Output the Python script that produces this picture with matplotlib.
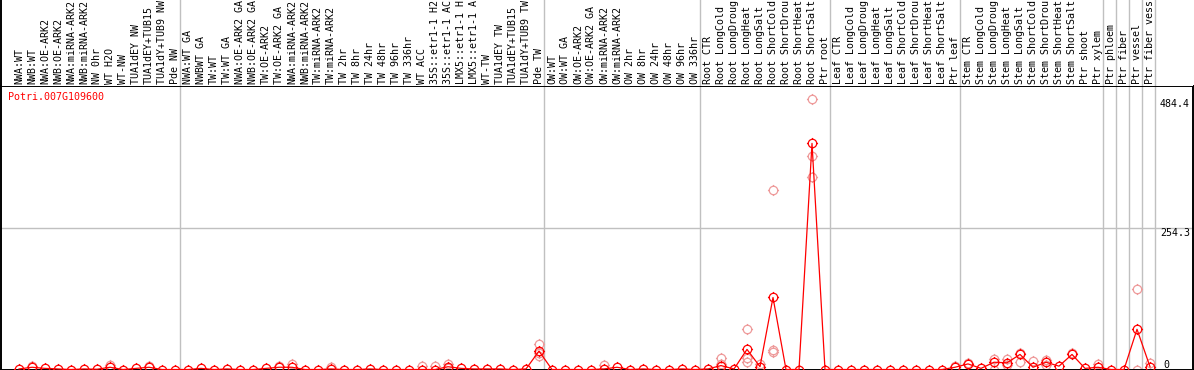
import matplotlib
matplotlib.use('Agg')
import matplotlib.pyplot as plt
from matplotlib.path import Path
import numpy as np

# ---------------- data ----------------
gene = "Potri.007G109600"

labels = [
    "NWA:WT", "NWB:WT", "NWA:OE-ARK2", "NWB:OE-ARK2", "NWA:miRNA-ARK2", "NWB:miRNA-ARK2",
    "NW 0hr", "WT H2O", "WT-NW", "TUA1dEY NW", "TUA1dEY+TUB15", "TUA1dY+TUB9 NW", "Pde NW",
    "NWA:WT GA", "NWBWT GA", "TW:WT", "TW:WT GA", "NWA:OE-ARK2 GA", "NWB:OE-ARK2 GA",
    "TW:OE-ARK2", "TW:OE-ARK2 GA", "NWA:miRNA-ARK2", "NWB:miRNA-ARK2", "TW:miRNA-ARK2",
    "TW:miRNA-ARK2", "TW 2hr", "TW 8hr", "TW 24hr", "TW 48hr", "TW 96hr", "TW 336hr",
    "WT ACC", "35S::etr1-1 H2", "35S::etr1-1 AC", "LMX5::etr1-1 H", "LMX5::etr1-1 A",
    "WT-TW", "TUA1dEY TW", "TUA1dEY+TUB15", "TUA1dY+TUB9 TW", "Pde TW",
    "OW:WT", "OW:WT GA", "OW:OE-ARK2", "OW:OE-ARK2 GA", "OW:miRNA-ARK2", "OW:miRNA-ARK2",
    "OW 2hr", "OW 8hr", "OW 24hr", "OW 48hr", "OW 96hr", "OW 336hr",
    "Root CTR", "Root LongCold", "Root LongDroug", "Root LongHeat", "Root LongSalt",
    "Root ShortCold", "Root ShortDrou", "Root ShortHeat", "Root ShortSalt", "Ptr root",
    "Leaf CTR", "Leaf LongCold", "Leaf LongDroug", "Leaf LongHeat", "Leaf LongSalt",
    "Leaf ShortCold", "Leaf ShortDrou", "Leaf ShortHeat", "Leaf ShortSalt", "Ptr leaf",
    "Stem CTR", "Stem LongCold", "Stem LongDroug", "Stem LongHeat", "Stem LongSalt",
    "Stem ShortCold", "Stem ShortDrou", "Stem ShortHeat", "Stem ShortSalt", "Ptr shoot",
    "Ptr xylem", "Ptr phloem", "Ptr fiber", "Ptr vessel", "Ptr fiber vess",
]

expr = [
    1, 4, 2, 1, 0, 1, 0.5, 4, 0, 2, 4, 0, 0,
    0, 2, 0, 1, 0, 0, 2, 4, 4, 0, 0, 1, 0, 0, 1, 0, 0, 0, 0, 0, 5, 2, 1, 1, 1, 0, 1, 33,
    0, 0, 0, 0, 1, 4, 0, 1, 0, 0, 1, 0,
    1, 7, 1, 36, 5, 129, 0, 0, 405, 0,
    0, 0, 0, 0, 0, 0, 0, 0, 0, 4,
    10, 2, 13, 12, 27, 4, 13, 6, 27, 2, 4,
    0, 0, 72, 5,
]

rep_idx = [1, 7, 10, 20, 21, 24, 31, 32, 33, 33, 40, 40, 40, 45, 54, 54, 56, 56, 56, 57,
           58, 58, 58, 61, 61, 61, 72, 73, 75, 75, 76, 76, 77, 77, 78, 79, 79, 81, 83,
           86, 86, 87]
rep_val = [7, 8, 7, 6, 10, 4, 6, 6, 10, 2, 45, 25, 29, 8, 21, 10, 72, 21, 14, 10,
           321, 32, 35, 484.4, 383, 344, 6, 12, 19, 0, 19, 8, 29, 14, 16, 17, 8, 29, 10,
           144, 0, 11]

group_ends = [12, 40, 52, 62, 72, 83, 84, 85, 86, 87]
y_max_value = 484.4
y_mid_value = 254.3

# ---------------- layout ----------------
W, H, DPI = 1194, 370, 100
fig = plt.figure(figsize=(W / DPI, H / DPI), dpi=DPI)
MONO = "DejaVu Sans Mono"
FS = 7.2
GRAY = "#c0c0c0"
RED = "#ff0000"
PINK = "#ee9a9a"

top_px, bot_px, left_px, right_px = 85.5, 369.5, 1.0, 1193.0
ax = fig.add_axes([left_px / W, (H - bot_px) / H, (right_px - left_px) / W, (bot_px - top_px) / H])
axl = fig.add_axes([left_px / W, (H - top_px) / H, (right_px - left_px) / W, top_px / H])

n = len(labels)
x = np.arange(n)
x0 = -(19 - left_px) / 13.0
x1 = x0 + (right_px - left_px) / 13.0
for a in (ax, axl):
    a.set_xlim(x0, x1)
    a.set_xticks([])
    a.set_yticks([])
ax.set_ylim(0, y_max_value * 1.05)
axl.set_ylim(0, 1)

for s in ("top", "bottom", "left", "right"):
    ax.spines[s].set_linewidth(1.4)
    ax.spines[s].set_color("black")
for s in ("top", "bottom", "right"):
    axl.spines[s].set_visible(False)
axl.spines["left"].set_linewidth(1.4)

# group separators
for e in group_ends:
    ax.axvline(e + 0.4, color=GRAY, lw=1.0, zorder=0)
    axl.axvline(e + 0.4, color=GRAY, lw=1.0, zorder=0)
ax.axhline(y_mid_value, color=GRAY, lw=1.0, zorder=0)

# marker: circle with little ticks
circ = Path.unit_circle()
ticks = [Path([[0, 1.0], [0, 1.32]]), Path([[0, -1.0], [0, -1.32]]),
         Path([[1.0, 0], [1.32, 0]]), Path([[-1.0, 0], [-1.32, 0]])]
mk = Path.make_compound_path(circ, *ticks)
MS = 8.0

ax.plot(rep_idx, rep_val, linestyle="none", marker=mk, markersize=MS,
        markerfacecolor="none", markeredgecolor=PINK, markeredgewidth=0.9, zorder=2)
ax.plot(x, expr, color=RED, lw=0.9, marker=mk, markersize=MS,
        markerfacecolor="none", markeredgecolor=RED, markeredgewidth=0.9, zorder=3)

# sample labels
for i, lab in enumerate(labels):
    axl.text(i, 2.0 / top_px, lab, rotation=90, ha="center", va="bottom",
             family=MONO, fontsize=FS, color="black", clip_on=False)

# gene name
ax.text(7.0 / (right_px - left_px), 1 - 6 / (bot_px - top_px), gene, transform=ax.transAxes,
        ha="left", va="top", family=MONO, fontsize=FS, color=RED)

# right value labels
tr = ax.get_yaxis_transform()
xl = (1160 - left_px) / (right_px - left_px)
ax.text(xl, y_max_value, f"{y_max_value:.1f}", transform=tr, ha="left", va="top",
        family=MONO, fontsize=FS, color="black")
ax.text(xl, y_mid_value, f"{y_mid_value:.1f}", transform=tr, ha="left", va="top",
        family=MONO, fontsize=FS, color="black")
ax.text((1163 - left_px) / (right_px - left_px), 0, "0", transform=tr, ha="left", va="bottom",
        family=MONO, fontsize=FS, color="black")

fig.savefig("out.png", dpi=DPI, facecolor="white")
